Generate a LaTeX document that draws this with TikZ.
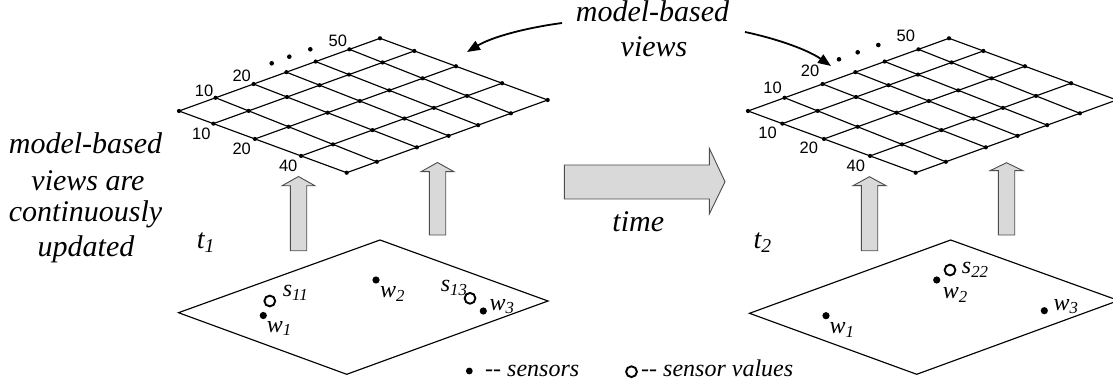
\documentclass[tikz,border=0pt]{standalone}
\usepackage{fontspec}
\setmainfont{Liberation Serif}
\newfontfamily\numfont{Liberation Sans}
\usetikzlibrary{calc,arrows.meta}

\tikzset{
  gridline/.style={line width=1.15pt},
  gridnum/.style={font=\numfont\fontsize{16.5}{18}\selectfont, inner sep=0pt},
  plane/.style={draw, line width=1.15pt},
  liftarrow/.style={fill=black!15, draw=black!70, line width=0.9pt},
  lbl/.style={font=\fontsize{24}{26}\selectfont\itshape, inner sep=0pt, anchor=base west},
  tlbl/.style={font=\fontsize{28}{30}\selectfont\itshape, inner sep=0pt, anchor=base west},
  caption/.style={font=\fontsize{30}{34}\selectfont\itshape, inner sep=0pt, anchor=base},
  pointer/.style={line width=1.8pt, -{Triangle[length=13pt,width=10pt]}},
  reading/.style={draw, line width=1.9pt},
}

% grid of model-based view points; #1 = name prefix, #2 = horizontal shift
\newcommand\viewgrid[2]{%
  \begin{scope}[xshift=#2]
    \coordinate (#1L) at (179,111);
    \coordinate (#1T) at (380,38.3);
    \coordinate (#1R) at (547.7,100);
    \coordinate (#1B) at (346.7,172.7);
  \end{scope}
  \foreach \a/\ap [count=\i] in {0/0,0.182/0.150,0.371/0.349,0.534/0.507,0.680/0.654,0.848/0.817,1/1}{%
    \coordinate (#1ua\i) at ($(#1L)!\a!(#1T)$);
    \coordinate (#1ub\i) at ($(#1B)!\ap!(#1R)$);
    \draw[gridline] (#1ua\i) -- (#1ub\i);
  }
  \foreach \b [count=\j] in {0,0.205,0.453,0.728,1}{%
    \coordinate (#1va\j) at ($(#1L)!\b!(#1B)$);
    \coordinate (#1vb\j) at ($(#1T)!\b!(#1R)$);
    \draw[gridline] (#1va\j) -- (#1vb\j);
  }
  \foreach \i in {1,...,7}{%
    \foreach \b in {0,0.205,0.453,0.728,1}{%
      \fill ($(#1ua\i)!\b!(#1ub\i)$) circle (2.1);
    }
  }
}

% upward block arrow: #1 = centre x, #2 = bottom y, #3 = head base y, #4 = tip y
\newcommand\liftarrow[4]{%
  \filldraw[liftarrow] (#1-8.2,#2) -- (#1-8.2,#3) -- (#1-16.5,#3) -- (#1,#4)
    -- (#1+16.5,#3) -- (#1+8.2,#3) -- (#1+8.2,#2) -- cycle;
}

\begin{document}
\begin{tikzpicture}[x=1pt,y=-1pt]
\useasboundingbox (0,0) rectangle (1113,390);
\clip (0,0) rectangle (1113,390);

% ---- view grids ----
\viewgrid{G}{0}
\viewgrid{H}{569}

% labels of the left grid
\node[gridnum] (g50) at (337.8,41.2) {50};
\node[gridnum] (g20a) at (241.7,75.8) {20};
\node[gridnum] (g10a) at (204,91.3) {10};
\node[gridnum] (g10b) at (201.3,134.2) {10};
\node[gridnum] (g20b) at (241.7,149.2) {20};
\node[gridnum] (g40) at (288.2,165.8) {40};
\foreach \p in {(271.7,63.3),(289.3,56.7),(310.3,49.3)} \fill \p circle (2.3);

% labels of the right grid
\node[gridnum] (h50) at (905.8,36.3) {50};
\node[gridnum] (h20a) at (810,71.2) {20};
\node[gridnum] (h10a) at (772.5,87.8) {10};
\node[gridnum] (h10b) at (767.5,132.5) {10};
\node[gridnum] (h20b) at (808.8,147.5) {20};
\node[gridnum] (h40) at (855.8,166.3) {40};
\foreach \p in {(839,59.3),(857.7,52.3),(878.3,45)} \fill \p circle (2.3);

% ---- sensor planes ----
\draw[plane] (178.5,312.7) -- (380,240) -- (548,301) -- (346.7,374.3) -- cycle;
\draw[plane] (749.5,313.3) -- (950.7,240) -- (1118.5,300.5) -- (916.7,374.3) -- cycle;

% ---- lifting arrows ----
\liftarrow{298.5}{250.7}{185.8}{176.5}
\liftarrow{437.5}{235}{171.7}{162.5}
\liftarrow{869.5}{250.7}{185.7}{176.7}
\liftarrow{1006.5}{235}{170.7}{162.7}

% ---- time arrow ----
\filldraw[liftarrow] (564.3,165) -- (709.3,165) -- (709.3,148.3) -- (725,181.7)
  -- (709.3,214) -- (709.3,199) -- (564.3,199) -- cycle;
\node[caption] (time) at (638.3,231.7) {time};

% ---- captions ----
\node[caption] (mb1) at (652.5,21.7) {model-based};
\node[caption] (mb2) at (654,56.7) {views};
\node[caption] (up1) at (85.5,153.3) {model-based};
\node[caption] (up2) at (88,190) {views are};
\node[caption] (up3) at (85.5,221.7) {continuously};
\node[caption] (up4) at (86,256.7) {updated};

\coordinate (lArrS) at (562,23);
\coordinate (lArrE) at (467,52);
\coordinate (rArrS) at (745,32);
\coordinate (rArrE) at (831,66);
\draw[pointer] (lArrS) .. controls (525,28) and (492,37) .. (lArrE);
\draw[pointer] (rArrS) .. controls (778,39) and (808,50) .. (rArrE);

% ---- time stamps ----
\node[tlbl] (t1) at (196.7,248.3) {t\textsubscript{1}};
\node[tlbl] (t2) at (753.3,248.3) {t\textsubscript{2}};

% ---- sensors at t1 ----
\fill (263.3,315.5) circle (3.6);
\node[lbl] (w1a) at (266.7,332) {w\textsubscript{1}};
\draw[reading] (269.8,301) circle (5.4);
\node[lbl] (s11) at (282.7,296.7) {s\textsubscript{11}};
\fill (376,280) circle (3.6);
\node[lbl] (w2a) at (380,297.7) {w\textsubscript{2}};
\draw[reading] (470,298.3) circle (5.4);
\node[lbl] (s13) at (440.7,291.7) {s\textsubscript{13}};
\fill (483.3,311) circle (3.6);
\node[lbl] (w3a) at (489.3,310) {w\textsubscript{3}};

% ---- sensors at t2 ----
\fill (826,315.7) circle (3.6);
\node[lbl] (w1b) at (829.3,333.3) {w\textsubscript{1}};
\fill (936.7,280) circle (3.6);
\node[lbl] (w2b) at (942.7,298.3) {w\textsubscript{2}};
\draw[reading] (950,270) circle (5.4);
\node[lbl] (s22) at (961.7,273.3) {s\textsubscript{22}};
\fill (1044.3,310.7) circle (3.6);
\node[lbl] (w3b) at (1053.3,310) {w\textsubscript{3}};

% ---- legend ----
\fill (469.3,371) circle (3.4);
\node[lbl] (legS) at (485,376.7) {-{}- sensors};
\draw[reading] (631.5,371.7) circle (5.4);
\node[lbl] (legV) at (641,376.7) {-{}- sensor values};
\end{tikzpicture}
\end{document}
